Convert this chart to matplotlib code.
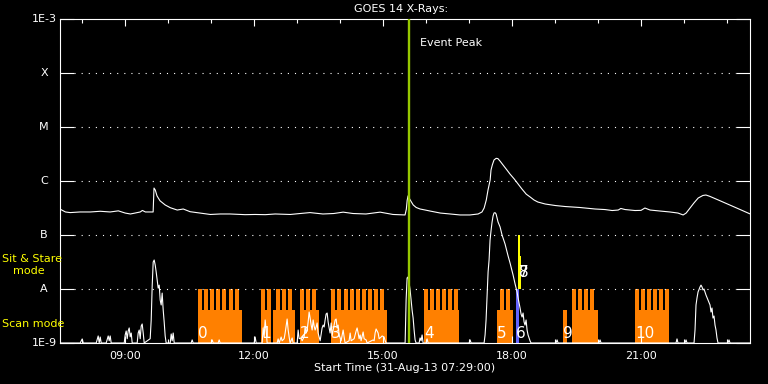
import matplotlib.pyplot as plt
from matplotlib.ticker import NullLocator

# time axis in decimal hours of 31-Aug-13
t_start = 7.4833   # 07:29:00
t_end = 23.535
event_peak = 15.605

# GOES 14 long channel, flux in units of 1e-7 W/m^2
long_hours = [7.49, 7.61, 7.72, 7.95, 8.19, 8.42, 8.65, 8.84, 9.00, 9.12, 9.23, 9.35, 9.40, 9.47,
              9.58, 9.65, 9.67, 9.70, 9.74, 9.81, 9.93, 10.05, 10.21, 10.35, 10.51, 10.74, 10.98,
              11.21, 11.44, 11.79, 12.02, 12.26, 12.49, 12.84, 13.07, 13.30, 13.60, 13.85, 14.07,
              14.30, 14.60, 14.93, 15.23, 15.51, 15.54, 15.56, 15.58, 15.63, 15.70, 15.77, 15.86,
              15.98, 16.09, 16.33, 16.56, 16.79, 17.02, 17.21, 17.30, 17.35, 17.40, 17.44, 17.49,
              17.51, 17.54, 17.58, 17.63, 17.67, 17.72, 17.79, 17.88, 17.95, 18.05, 18.14, 18.23,
              18.33, 18.42, 18.51, 18.60, 18.77, 19.00, 19.23, 19.58, 19.93, 20.16, 20.33, 20.47,
              20.53, 20.63, 20.86, 21.00, 21.09, 21.21, 21.44, 21.67, 21.86, 21.98, 22.05, 22.14,
              22.23, 22.33, 22.44, 22.51, 22.60, 22.84, 23.19, 23.54]
long_flux = [3.0, 2.67, 2.6, 2.67, 2.67, 2.75, 2.67, 2.8, 2.55, 2.45, 2.55, 2.67, 2.85, 2.67,
             2.67, 2.67, 7.4, 6.8, 5.3, 4.3, 3.6, 3.2, 2.9, 3.03, 2.7, 2.55, 2.4,
             2.45, 2.45, 2.38, 2.4, 2.38, 2.45, 2.4, 2.5, 2.6, 2.45, 2.5, 2.65,
             2.5, 2.45, 2.65, 2.4, 2.35, 3.0, 4.4, 5.3, 4.45, 3.6, 3.23, 3.03,
             2.9, 2.78, 2.55, 2.45, 2.35, 2.35, 2.45, 2.67, 3.16, 4.45, 6.8, 10.4,
             16.0, 19.8, 24.5, 26.3, 26.0, 23.4, 19.8, 16.0, 13.5, 10.9, 8.8, 7.1,
             5.7, 5.06, 4.45, 4.08, 3.75, 3.52, 3.37, 3.23, 3.03, 2.96, 2.84, 2.9,
             3.1, 2.96, 2.84, 2.86, 3.16, 2.9, 2.78, 2.67, 2.55, 2.35, 2.55, 3.16,
             3.91, 4.84, 5.4, 5.5, 5.2, 4.3, 3.25, 2.45]

# GOES 14 short channel, flux in units of 1e-9 W/m^2
short_hours = [7.488, 7.953, 8.0, 8.023, 8.326, 8.372, 8.395, 8.419, 8.442, 8.558, 8.605, 8.628,
               8.651, 8.674, 8.977, 9.0, 9.023, 9.047, 9.070, 9.093, 9.116, 9.140, 9.163, 9.279,
               9.302, 9.326, 9.349, 9.372, 9.395, 9.419, 9.442, 9.581, 9.605, 9.628, 9.651, 9.674,
               9.698, 9.721, 9.744, 9.767, 9.791, 9.814, 9.837, 9.860, 9.884, 9.907, 9.930, 9.953,
               10.047, 10.070, 10.093, 10.116, 10.140, 10.535, 10.558, 10.581, 11.0, 11.023, 11.047,
               11.163, 11.186, 11.209, 12.0, 12.023, 12.047, 12.186, 12.209, 12.233, 12.256, 12.279,
               12.302, 12.535, 12.558, 12.581, 12.628, 12.651, 12.698, 12.721, 12.744, 12.767,
               12.791, 12.814, 12.837, 12.884, 12.907, 13.0, 13.023, 13.047, 13.093, 13.116, 13.163,
               13.186, 13.209, 13.233, 13.256, 13.279, 13.302, 13.326, 13.349, 13.372, 13.395,
               13.419, 13.442, 13.465, 13.488, 13.512, 13.535, 13.581, 13.605, 13.628, 13.651,
               13.674, 13.698, 13.721, 13.744, 13.767, 13.791, 13.814, 13.837, 13.860, 13.884,
               13.907, 13.930, 13.953, 13.977, 14.0, 14.023, 14.070, 14.093, 14.116, 14.209, 14.233,
               14.256, 14.326, 14.349, 14.372, 14.395, 14.419, 14.442, 14.465, 14.488, 14.535,
               14.558, 14.605, 14.628, 14.767, 14.791, 14.814, 14.837, 14.860, 14.884, 14.907,
               14.953, 14.977, 15.023, 15.047, 15.070, 15.512, 15.535, 15.558, 15.581, 15.605,
               15.628, 15.651, 15.674, 15.698, 15.721, 15.744, 15.767, 15.837, 15.860, 15.884,
               15.907, 15.930, 16.0, 16.023, 16.047, 17.0, 17.023, 17.047, 17.349, 17.372, 17.395,
               17.419, 17.442, 17.465, 17.488, 17.512, 17.535, 17.558, 17.581, 17.605, 17.628,
               17.674, 17.721, 17.767, 17.837, 17.907, 17.953, 18.023, 18.070, 18.116, 18.140,
               18.186, 18.209, 18.233, 18.256, 18.279, 18.302, 18.326, 18.349, 18.372, 18.419,
               18.442, 19.023, 19.047, 19.070, 20.023, 20.047, 20.070, 21.814, 21.837, 21.860,
               22.023, 22.047, 22.070, 22.233, 22.256, 22.279, 22.302, 22.326, 22.372, 22.395,
               22.419, 22.442, 22.465, 22.512, 22.558, 22.605, 22.628, 22.651, 22.674, 22.698,
               22.721, 22.744, 22.767, 22.791, 23.023, 23.047, 23.070, 23.535]
short_flux = [1, 1, 1.19, 1, 1, 1.35, 1, 1.29, 1, 1, 1.35, 1.1,
              1.35, 1, 1, 1.41, 1.67, 1.2, 1.67, 1.9, 1.3, 1.53, 1, 1,
              1.53, 1.74, 1.2, 2.06, 2.25, 1.53, 1, 1.2, 2.67, 11.4, 31.5, 34.4,
              27.8, 20.6, 14.7, 10.4, 11.8, 6.25, 5.06, 8.4, 4.08, 2.45, 1.35, 1,
              1, 1.47, 1.1, 1.53, 1, 1, 1.14, 1, 1, 1.14, 1,
              1, 1.14, 1, 1, 1.29, 1, 1, 1.9, 1.3, 2.67, 1.74,
              1, 1, 1.19, 1, 1.29, 1.1, 1.2, 1.53, 2.06, 2.78,
              1.74, 1.29, 1, 1.24, 1, 1, 1.74, 1.2, 1.24, 1.1, 1.3,
              1.98, 1.53, 1.74, 2.45, 3.75, 2.9, 2.15, 1.74, 2.67, 2.06,
              1.74, 1.98, 2.35, 1.53, 1.29, 1.1, 1.9, 2.15, 1.98, 2.67,
              3.44, 3.59, 2.45, 1.9, 1.53, 2.35, 1.35, 1.74, 2.15, 2.67,
              2.78, 1.9, 2.15, 1.41, 1.24, 1.1, 1.74, 1.29, 1, 1.1, 1.53,
              1.1, 1.2, 1.41, 1.67, 1.9, 1.53, 1.2, 1.41, 1.1, 1.6,
              1.2, 1.14, 1, 1.14, 1.1, 1.53, 1.82, 1.67, 1.53, 1.2,
              1.29, 1.35, 1.29, 1.1, 1, 1, 6.25, 16.0, 16.7, 12.9,
              9.6, 6.25, 4.08, 2.9, 1.74, 1.14, 1, 1, 1.24, 1.1,
              1.41, 1, 1, 1.19, 1, 1, 1.14, 1, 1, 1.41, 2.67,
              7.7, 20.6, 34.4, 80.9, 123, 174, 225, 256, 259, 245,
              174, 141, 100, 68, 41, 30.3, 18.2, 12.4, 8.8, 6.8,
              4.45, 3.44, 3.03, 3.59, 2.45, 2.15, 2.67, 1.74, 1.41, 1.09,
              1, 1, 1.14, 1, 1, 1.14, 1, 1, 1.19, 1,
              1, 1.14, 1, 1, 1.74, 5.06, 6.8, 8.8, 10.9, 11.8,
              10.9, 9.6, 10.0, 7.7, 6.25, 5.06, 3.75, 4.45, 2.9, 3.16,
              2.15, 1.74, 1.24, 1, 1, 1.14, 1, 1]

# IRIS scan observations (hours): label, low blocks, raster teeth starts
scan_labels = ['0', '1', '2', '3', '4', '5', '9', '10']
scan_blocks = [
    [(10.698, 11.721)],
    [(12.163, 12.388), (12.442, 12.953)],
    [(13.070, 13.512)],
    [(13.791, 15.086)],
    [(15.953, 16.767)],
    [(17.651, 18.023)],
    [(19.186, 19.279), (19.395, 20.000)],
    [(20.860, 21.651)],
]
scan_teeth = [
    [10.698, 10.837, 10.977, 11.116, 11.256, 11.412, 11.551],
    [12.163, 12.302, 12.512, 12.651, 12.791],
    [13.070, 13.209, 13.349],
    [13.791, 13.930, 14.081, 14.221, 14.360, 14.500, 14.640, 14.779, 14.919],
    [15.953, 16.093, 16.233, 16.372, 16.512, 16.651],
    [17.721, 17.860],
    [19.395, 19.535, 19.674, 19.814],
    [20.860, 21.000, 21.140, 21.279, 21.419, 21.558],
]
# observation 6 (scan, blue) and sit & stare observations 7, 8 (yellow)
blue_obs = (18.093, 18.163)
stare_obs = [(18.133, 18.186, 1e-7), (18.147, 18.200, 4.1e-8)]

level_names = ['1E-9', 'A', 'B', 'C', 'M', 'X', '1E-3']
levels = [1e-9, 1e-8, 1e-7, 1e-6, 1e-5, 1e-4, 1e-3]

ORANGE = '#ff8000'
GREEN = '#96c800'
BLUE = '#6464ff'
YELLOW = '#ffff00'
FLOOR = 1e-9
BLOCK_TOP = 4.08e-9
TOOTH_TOP = 1e-8
TOOTH_W = 0.1

W, H = 768, 384
fig = plt.figure(figsize=(W / 100, H / 100), dpi=100, facecolor='black')
ax = fig.add_axes([60 / W, 41 / H, 690 / W, 324 / H])
ax.set_facecolor('black')
ax.set_yscale('log')
ax.set_ylim(1e-9, 1e-3)
ax.set_xlim(t_start, t_end)

for s in ax.spines.values():
    s.set_color('white')
    s.set_linewidth(0.8)

# scan bars
for blocks, teeth in zip(scan_blocks, scan_teeth):
    for s, e in blocks:
        ax.bar(s, BLOCK_TOP - FLOOR, width=e - s, bottom=FLOOR, align='edge',
               color=ORANGE, linewidth=0, zorder=1)
    ax.bar(teeth, TOOTH_TOP - FLOOR, width=TOOTH_W, bottom=FLOOR, align='edge',
           color=ORANGE, linewidth=0, zorder=1)
ax.bar(blue_obs[0], TOOTH_TOP - FLOOR, width=blue_obs[1] - blue_obs[0], bottom=FLOOR,
       align='edge', color=BLUE, linewidth=0, zorder=1)
for s, e, top in stare_obs:
    ax.bar(s, top - TOOTH_TOP, width=e - s, bottom=TOOTH_TOP, align='edge',
           color=YELLOW, linewidth=0, zorder=1)

# grid levels
for lev in levels[1:-1]:
    ax.axhline(lev, xmin=14 / 690, xmax=1 - 14 / 690, color='white', lw=0.8,
               ls=(0, (1, 5.4)), zorder=1.5)

# GOES curves
ax.plot(long_hours, [v * 1e-7 for v in long_flux], color='white', lw=0.8, zorder=2)
ax.plot(short_hours, [v * 1e-9 for v in short_flux], color='white', lw=0.8, zorder=2)

ax.axvline(event_peak, color=GREEN, lw=1.7, zorder=3)

# labels of the observations
for lab, blocks in zip(scan_labels, scan_blocks):
    ax.text(blocks[0][0], 1.53e-9, lab, color='white', fontsize=11, ha='left',
            va='center', zorder=4)
ax.text(blue_obs[0], 1.53e-9, '6', color='white', fontsize=11, ha='left', va='center', zorder=4)
for lab in ['7', '8']:
    ax.text(stare_obs[0][0] + 0.03, 2.0e-8, lab, color='white', fontsize=11, ha='left',
            va='center', zorder=4)

# axis ticks
ax.set_xticks([9, 12, 15, 18, 21])
ax.set_xticklabels(['09:00', '12:00', '15:00', '18:00', '21:00'])
ax.set_xticks([8, 10, 11, 13, 14, 16, 17, 19, 20, 22, 23], minor=True)
ax.tick_params(axis='x', which='major', direction='in', length=5, width=0.8, color='white',
               top=True, bottom=True, labelcolor='white', labelsize=8, pad=6)
ax.tick_params(axis='x', which='minor', direction='in', length=2.9, width=0.8, color='white',
               top=True, bottom=True)
ax.set_yticks(levels)
ax.yaxis.set_minor_locator(NullLocator())
ax.tick_params(axis='y', which='major', direction='in', length=10, width=0.8, color='white',
               left=True, right=True, labelleft=False)

ytr = ax.get_yaxis_transform()
for name, lev in zip(level_names, levels):
    if name.startswith('1E'):
        ax.text(-3 / 690, lev, name, transform=ytr, color='white', fontsize=8,
                ha='right', va='center')
    else:
        ax.text(-16 / 690, lev, name, transform=ytr, color='white', fontsize=8,
                ha='center', va='center')

fig.text(2 / W, 1 - 259 / H, 'Sit & Stare', color=YELLOW, fontsize=8, ha='left', va='center')
fig.text(13 / W, 1 - 271 / H, 'mode', color=YELLOW, fontsize=8, ha='left', va='center')
fig.text(2 / W, 1 - 324 / H, 'Scan mode', color=YELLOW, fontsize=8, ha='left', va='center')

fig.text(401 / W, 1 - 9 / H, 'GOES 14 X-Rays:', color='white', fontsize=8, ha='center', va='center')
fig.text(420 / W, 1 - 43 / H, 'Event Peak', color='white', fontsize=8, ha='left', va='center')
fig.text(405 / W, 1 - 368 / H, 'Start Time (31-Aug-13 07:29:00)', color='white', fontsize=8,
         ha='center', va='center')

fig.savefig('out.png', dpi=100, facecolor='black')
